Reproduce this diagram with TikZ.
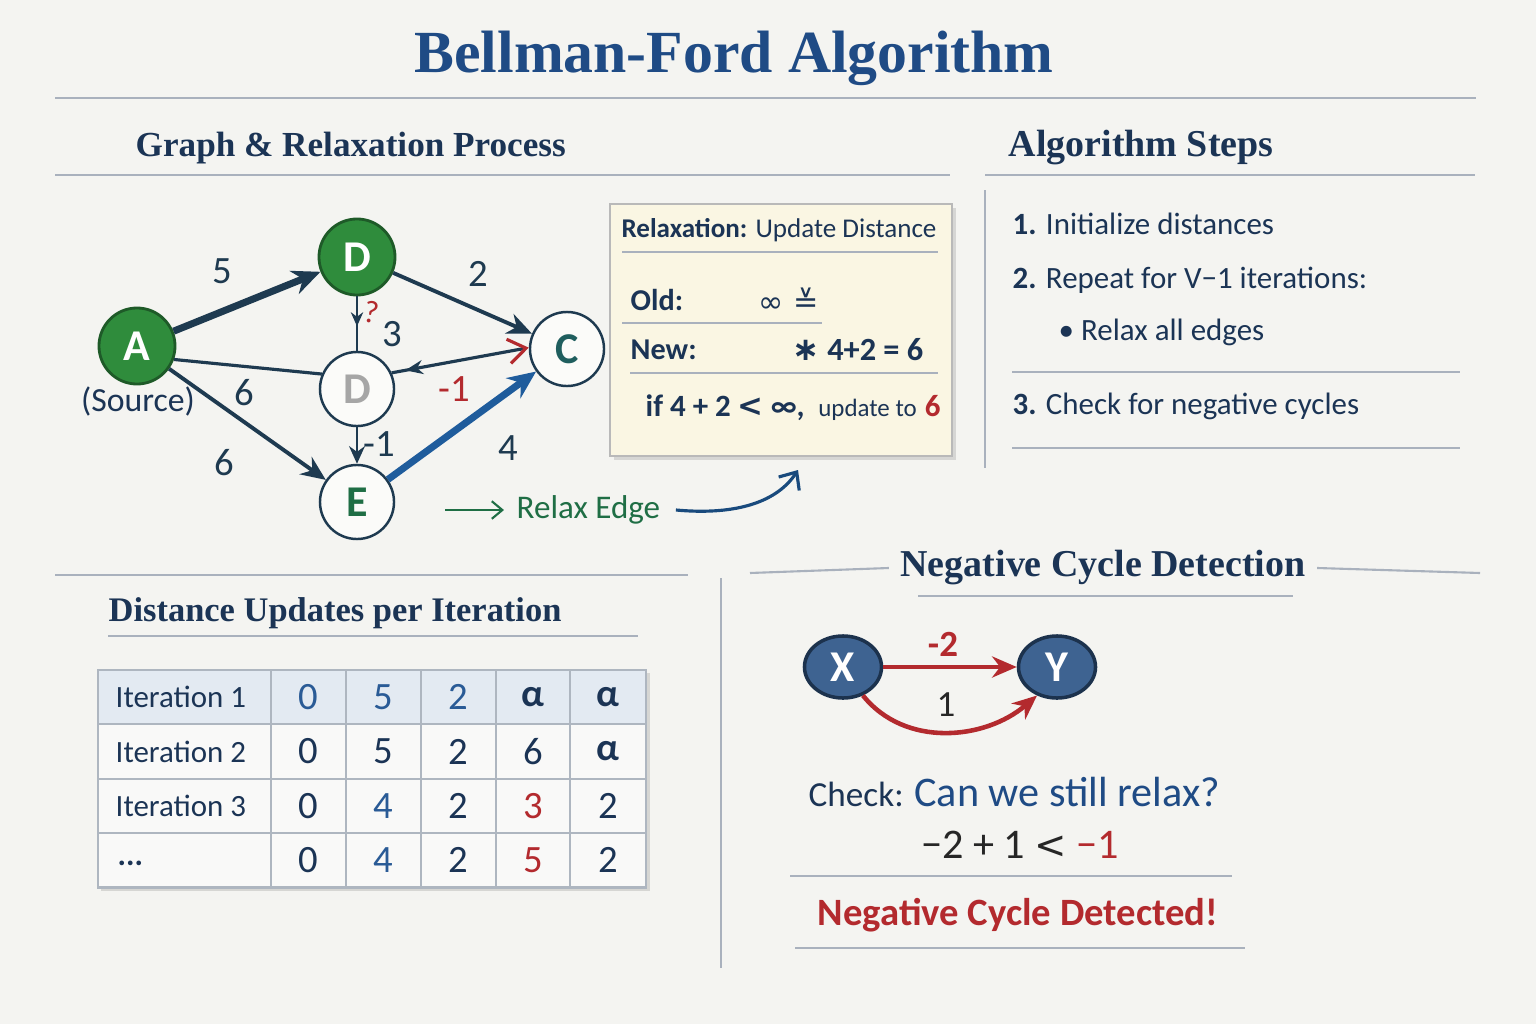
\documentclass[tikz,border=0pt]{standalone}
\usepackage{fontspec}
\setmainfont{Carlito}
\newfontfamily\headfont{Liberation Serif}
\newfontfamily\symfont{DejaVu Sans}
\usetikzlibrary{arrows.meta,shadows,decorations.markings,shapes.geometric}
\newcommand\myfs[1]{\fontsize{#1}{#1}\selectfont}
\definecolor{bgc}{HTML}{F4F4F1}
\definecolor{titleblue}{HTML}{1F4B85}
\definecolor{navy}{HTML}{1B3455}
\definecolor{rulec}{HTML}{A9B1BD}
\definecolor{gfill}{HTML}{2F8C3C}
\definecolor{gdark}{HTML}{1E5A28}
\definecolor{edark}{HTML}{1E3A50}
\definecolor{eblue}{HTML}{1F5C9C}
\definecolor{redc}{HTML}{B32A2E}
\definecolor{teal}{HTML}{1F5E5E}
\definecolor{egreen}{HTML}{1F6E45}
\definecolor{cream}{HTML}{FAF6E3}
\definecolor{gridc}{HTML}{AEB6C0}
\definecolor{hdrc}{HTML}{E3EAF2}
\definecolor{cellc}{HTML}{F9F9F8}
\definecolor{numblue}{HTML}{2A5B96}
\definecolor{xfill}{HTML}{3E6391}
\definecolor{xdark}{HTML}{1C324D}
\tikzset{
  rule/.style={draw=rulec, line width=0.6pt},
  heading/.style={font=\headfont\bfseries\myfs{10}, text=navy},
  body/.style={font=\myfs{8.8}, text=navy},
  gnode/.style={circle, minimum size=0.76cm, inner sep=0, fill=gfill, draw=gdark, line width=0.8pt, text=white, font=\bfseries\myfs{12.5}},
  wnode/.style={circle, minimum size=0.74cm, inner sep=0, fill=white!60!bgc, draw=edark, line width=0.7pt, font=\bfseries\myfs{12.5}},
  elab/.style={font=\myfs{11}, text=edark},
  darrow/.style={draw=edark, line width=1.1pt, -{Stealth[length=7pt,width=6pt]}},
  thickarrow/.style={line width=2pt, -{Stealth[length=8pt,width=7pt]}},
  midarrow/.style={draw=edark, line width=0.7pt, postaction={decorate},
    decoration={markings, mark=at position #1 with {\arrow{Stealth[length=4pt,width=3.5pt]}}}},
  cell/.style={draw=gridc, line width=0.7pt, minimum height=0.545cm, inner sep=0, font=\myfs{11}, text=navy},
  xnode/.style={ellipse, minimum width=0.77cm, minimum height=0.62cm, inner sep=0, fill=xfill, draw=xdark, line width=1pt, text=white, font=\bfseries\myfs{12.5}},
  redarrow/.style={draw=redc, line width=1.3pt, -{Stealth[length=7pt,width=6pt]}}
}
\begin{document}
\begin{tikzpicture}[x=0.01cm, y=-0.01cm, every node/.append style={inner sep=0pt}]
\fill[bgc] (0,0) rectangle (1536,1024);
\useasboundingbox (0,0) rectangle (1536,1024);

% title
\node[font=\headfont\bfseries\myfs{17}, text=titleblue] (title) at (734,58) {Bellman-Ford Algorithm};
\draw[rule] (55,98) -- (1476,98);

% section headings
\node[heading, anchor=west] (h1) at (135,148) {Graph \& Relaxation Process};
\draw[rule] (55,175) -- (950,175);
\node[heading, anchor=west, font=\headfont\bfseries\myfs{10.8}] (h2) at (1008,148) {Algorithm Steps};
\draw[rule] (985,175) -- (1475,175);
\draw[rule] (985,190) -- (985,468);

% algorithm steps
\node[body, anchor=west] (s1) at (1012,224) {\textbf{1.} Initialize distances};
\node[body, anchor=west] (s2) at (1012,280) {\textbf{2.} Repeat for V−1 iterations:};
\node[body, anchor=west] (s2a) at (1058,332) {\textbullet\ Relax all edges};
\draw[rule] (1012,372) -- (1460,372);
\node[body, anchor=west] (s3) at (1012,406) {\textbf{3.} Check for negative cycles};
\draw[rule] (1012,448) -- (1460,448);

% graph
\node[gnode] (A) at (137,346) {A};
\node[gnode] (D1) at (357,257) {D};
\node[wnode, text=gray!70] (D2) at (357,389) {D};
\node[wnode, text=teal] (C) at (567,349) {C};
\node[wnode, text=egreen] (E) at (357,502) {E};
\node[font=\myfs{9.6}, text=navy] (src) at (138,401) {(Source)};

\draw[thickarrow, draw=edark] (A) -- (D1);
\draw[darrow] (D1) -- (C);
\draw[midarrow=0.55] (D1) -- (D2);
\draw[draw=edark, line width=0.9pt] (A.-20) -- (D2.157);
\draw[draw=edark, line width=0.9pt, -{Straight Barb[length=5pt,width=7pt,color=redc]},
  postaction={decorate}, decoration={markings, mark=at position 0.1 with {\arrowreversed{Stealth[length=5pt,width=4pt]}}}] (D2.25) -- (C.178);
\draw[draw=edark, line width=0.8pt, -{Stealth[length=5pt,width=4.5pt]}] (D2) -- (E);
\draw[darrow] (A) -- (E);
\draw[thickarrow, draw=eblue] (E) -- (C);

\node[elab] (l5) at (222,271) {5};
\node[elab] (l2) at (478,274) {2};
\node[elab] (l3) at (392,334) {3};
\node[font=\myfs{9}, text=redc, rotate=-10] (lq) at (372,312) {?};
\node[elab] (l6a) at (244,393) {6};
\node[elab, text=redc] (lm1) at (454,389) {-1};
\node[elab] (lm1b) at (379,444) {-1};
\node[elab] (l6b) at (224,463) {6};
\node[elab] (l4) at (508,448) {4};

% relax edge
\coordinate (ra) at (445,510);
\node[font=\myfs{9.4}, text=egreen, anchor=west] (relax) at (516,510) {Relax Edge};
\draw[draw=egreen, line width=0.6pt, -{Straight Barb[length=3pt,width=5pt]}] (ra) -- ([xshift=-0.12cm]relax.west);
\coordinate (rb) at (798,470);

% relaxation box
\node[draw=gray!55, line width=0.6pt, fill=cream, minimum width=3.42cm, minimum height=2.52cm, drop shadow={opacity=0.25, shadow xshift=1.2pt, shadow yshift=-1.2pt}] (box) at (781,330) {};
\draw[draw=eblue!80!black, line width=0.9pt, -{Straight Barb[length=4pt,width=7pt]}] ([xshift=0.15cm]relax.east) .. controls (730,515) and (775,505) .. (rb);
\node[font=\myfs{7.7}, text=navy] (bt) at (779,230) {\textbf{Relaxation:} Update Distance};
\draw[rule, line width=0.8pt] (622,252) -- (938,252);
\node[font=\bfseries\myfs{8.6}, text=navy, anchor=west] (old) at (630,300) {Old:};
\node[font=\symfont\myfs{8.6}, text=navy] (oldv) at (789,300) {∞ ≚};
\draw[rule] (622,323) -- (822,323);
\node[font=\bfseries\myfs{8.6}, text=navy, anchor=west] (new) at (630,350) {New:};
\node[font=\bfseries\myfs{9.2}, text=navy, anchor=east] (newv) at (924,350) {{\symfont ∗} 4+2 = 6};
\draw[rule] (630,373) -- (938,373);
\node[text=navy, anchor=west] (cond) at (638,408) {{\bfseries\myfs{8.8} if 4 + 2 {\symfont <} ∞,} {\myfs{7.1} update to} {\bfseries\myfs{8.8}\color{redc}6}};

% distance table section
\draw[rule] (55,575) -- (688,575);
\node[heading, anchor=west, font=\headfont\bfseries\myfs{9.8}] (h3) at (108,613) {Distance Updates per Iteration};
\draw[rule] (108,636) -- (638,636);

\fill[black, opacity=0.12] (101,673) rectangle (650,891);
\foreach \y/\f in {697/hdrc, 751.5/cellc, 806/cellc, 860/cellc} {
  \node[cell, fill=\f, minimum width=1.73cm] at (184.5,\y) {};
}
\node[cell, fill=hdrc, minimum width=0.75cm, text=numblue] (c11) at (308.5,697) {0};
\node[cell, fill=hdrc, minimum width=0.75cm, text=numblue] (c12) at (383.5,697) {5};
\node[cell, fill=hdrc, minimum width=0.75cm, text=numblue] (c13) at (458.5,697) {2};
\node[cell, fill=hdrc, minimum width=0.74cm, font=\bfseries\myfs{11}] (c14) at (533,697) {α};
\node[cell, fill=hdrc, minimum width=0.76cm, font=\bfseries\myfs{11}] (c15) at (608,697) {α};
\node[cell, fill=cellc, minimum width=0.75cm] (c21) at (308.5,751.5) {0};
\node[cell, fill=cellc, minimum width=0.75cm] (c22) at (383.5,751.5) {5};
\node[cell, fill=cellc, minimum width=0.75cm] (c23) at (458.5,751.5) {2};
\node[cell, fill=cellc, minimum width=0.74cm] (c24) at (533,751.5) {6};
\node[cell, fill=cellc, minimum width=0.76cm, font=\bfseries\myfs{11}] (c25) at (608,751.5) {α};
\node[cell, fill=cellc, minimum width=0.75cm] (c31) at (308.5,806) {0};
\node[cell, fill=cellc, minimum width=0.75cm, text=numblue] (c32) at (383.5,806) {4};
\node[cell, fill=cellc, minimum width=0.75cm] (c33) at (458.5,806) {2};
\node[cell, fill=cellc, minimum width=0.74cm, text=redc] (c34) at (533,806) {3};
\node[cell, fill=cellc, minimum width=0.76cm] (c35) at (608,806) {2};
\node[cell, fill=cellc, minimum width=0.75cm] (c41) at (308.5,860) {0};
\node[cell, fill=cellc, minimum width=0.75cm, text=numblue] (c42) at (383.5,860) {4};
\node[cell, fill=cellc, minimum width=0.75cm] (c43) at (458.5,860) {2};
\node[cell, fill=cellc, minimum width=0.74cm, text=redc] (c44) at (533,860) {5};
\node[cell, fill=cellc, minimum width=0.76cm] (c45) at (608,860) {2};
\node[font=\myfs{8.8}, text=navy, anchor=west] (r1) at (115,697) {Iteration 1};
\node[font=\myfs{8.8}, text=navy, anchor=west] (r2) at (115,751.5) {Iteration 2};
\node[font=\myfs{8.8}, text=navy, anchor=west] (r3) at (115,806) {Iteration 3};
\node[font=\bfseries\myfs{9}, text=navy, anchor=west] (r4) at (117,863) {...};

% divider
\draw[rule] (721,578) -- (721,968);

% negative cycle section
\node[heading, font=\headfont\bfseries\myfs{10.8}] (h4) at (1103,568) {Negative Cycle Detection};
\draw[rule] (750,573) -- ([xshift=-0.11cm]h4.west);
\draw[rule] ([xshift=0.11cm]h4.east) -- (1480,573);
\draw[rule] (918,596) -- (1293,596);

\node[xnode] (X) at (843,667) {X};
\node[xnode] (Y) at (1057,667) {Y};
\draw[redarrow] (X) -- (Y);
\draw[redarrow] (X.-55) .. controls (905,748) and (985,740) .. (Y.-125);
\node[font=\bfseries\myfs{10.5}, text=redc] (lx1) at (943,644) {-2};
\node[font=\myfs{10.5}, text=black!85] (lx2) at (946,705) {1};

\node[anchor=west] (check) at (808,792) {{\myfs{10}\color{navy}Check:} {\myfs{12}\color{titleblue}Can we still relax?}};
\node[font=\myfs{12}, text=black!85] (ineq) at (1020,845) {−2 + 1 {\symfont\myfs{11}<} {\color{redc}−1}};
\draw[rule] (790,876) -- (1232,876);
\node[font=\bfseries\myfs{11}, text=redc] (neg) at (1018,915) {Negative Cycle Detected!};
\draw[rule] (795,948) -- (1245,948);
\end{tikzpicture}
\end{document}
